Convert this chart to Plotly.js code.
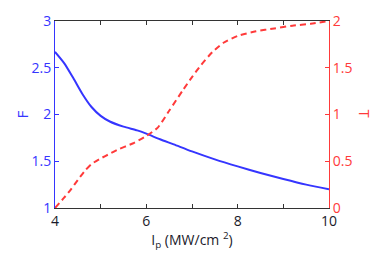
<!DOCTYPE html>
<html>
<head>
<meta charset="utf-8">
<script src="https://cdn.plot.ly/plotly-3.0.1.min.js"></script>
<style>html,body{margin:0;padding:0;background:#fff;}#chart{width:382px;height:262px;}</style>
</head>
<body>
<div id="chart"></div>
<script>
var xF = [4.0, 4.2, 4.4, 4.6, 4.8, 5.0, 5.2, 5.5, 5.8, 6.0, 6.3, 6.6, 7.0, 7.5, 8.0, 8.5, 9.0, 9.5, 10.0];
var valuesF = [2.67, 2.55, 2.39, 2.22, 2.08, 1.985, 1.925, 1.87, 1.83, 1.795, 1.735, 1.68, 1.605, 1.52, 1.445, 1.375, 1.31, 1.25, 1.20];
var xT = [4.0, 4.2, 4.35, 4.5, 4.64, 4.8, 5.0, 5.2, 5.4, 5.7, 6.0, 6.25, 6.5, 6.8, 7.0, 7.2, 7.45, 7.7, 8.0, 8.4, 8.8, 9.2, 9.6, 10.0];
var valuesT = [0, 0.11, 0.2, 0.3, 0.39, 0.47, 0.53, 0.58, 0.63, 0.69, 0.77, 0.86, 1.04, 1.26, 1.40, 1.53, 1.67, 1.77, 1.84, 1.89, 1.92, 1.95, 1.97, 2.0];
var xTickVals = [4, 6, 8, 10];
var xTickText = ['4', '6', '8', '10'];
var fTickVals = [1, 1.5, 2, 2.5, 3];
var fTickText = ['1', '1.5', '2', '2.5', '3'];
var tTickVals = [0, 0.5, 1, 1.5, 2];
var tTickText = ['0', '0.5', '1', '1.5', '2'];

var blue = '#3535ff';
var red = '#ff3a3a';
var font = 'Open Sans, Lato, sans-serif';

var data = [
  {x: xF, y: valuesF, type: 'scatter', mode: 'lines', line: {color: blue, width: 2, shape: 'spline', smoothing: 0.7}, yaxis: 'y', hoverinfo: 'none'},
  {x: xT, y: valuesT, type: 'scatter', mode: 'lines', line: {color: red, width: 2, dash: '6px,4px', shape: 'spline', smoothing: 0.6}, yaxis: 'y2', hoverinfo: 'none'}
];

var layout = {
  width: 382, height: 262,
  margin: {l: 55, r: 53, t: 21, b: 54},
  paper_bgcolor: '#fff', plot_bgcolor: '#fff',
  showlegend: false,
  font: {family: font, size: 14, color: '#222'},
  xaxis: {
    range: [4, 10], tickvals: xTickVals, ticktext: xTickText,
    ticks: 'inside', ticklen: 4, tickcolor: '#333', tickwidth: 1,
    minor: {dtick: 1, tick0: 4, ticks: 'inside', ticklen: 4, tickcolor: '#333', showgrid: false},
    showline: true, linecolor: '#333', linewidth: 1, mirror: 'ticks',
    showgrid: false, zeroline: false,
    tickfont: {family: font, size: 14, color: '#1a1a2a'},
    title: {text: 'I<sub>p</sub> (MW/cm <sup>2</sup>)', font: {family: font, size: 14, color: '#1a1a2a'}, standoff: 6}
  },
  yaxis: {
    range: [1, 3], tickvals: fTickVals, ticktext: fTickText,
    ticks: 'inside', ticklen: 4, tickcolor: blue,
    showline: true, linecolor: blue, linewidth: 1,
    showgrid: false, zeroline: false,
    tickfont: {family: font, size: 14, color: blue}
  },
  yaxis2: {
    range: [0, 2], tickvals: tTickVals, ticktext: tTickText,
    overlaying: 'y', side: 'right',
    ticks: 'inside', ticklen: 4, tickcolor: red,
    showline: true, linecolor: red, linewidth: 1,
    showgrid: false, zeroline: false,
    tickfont: {family: font, size: 14, color: red}
  },
  annotations: [
    {text: 'F', xref: 'paper', yref: 'paper', x: -0.124, y: 0.5, showarrow: false, textangle: -90,
     font: {family: font, size: 15, color: blue}, xanchor: 'center', yanchor: 'middle'},
    {text: 'T', xref: 'paper', yref: 'paper', x: 1.135, y: 0.5, showarrow: false, textangle: 90,
     font: {family: font, size: 15, color: red}, xanchor: 'center', yanchor: 'middle'}
  ]
};

Plotly.newPlot('chart', data, layout, {staticPlot: true, displayModeBar: false});
</script>
</body>
</html>
